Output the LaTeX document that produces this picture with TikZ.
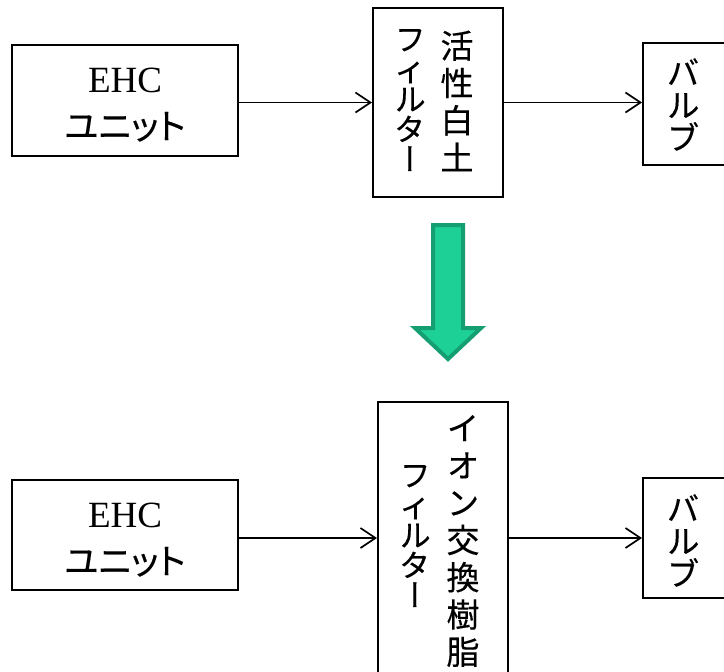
\documentclass[tikz,border=0pt]{standalone}
\usepackage{fontspec}
\setmainfont{Liberation Serif}
\newfontfamily\jp[FakeBold=0.3]{Noto Sans CJK JP}
\newfontfamily\jpp[RawFeature=+palt,FakeBold=0.3]{Noto Sans CJK JP}
\newfontfamily\jpv[RawFeature=+vert,FakeBold=0.3]{Noto Sans CJK JP}
\usetikzlibrary{arrows.meta}
\definecolor{arrfill}{HTML}{1DD196}
\definecolor{arrline}{HTML}{159E72}
\newcommand\vtightlines{\lineskiplimit=-100pt\relax}
\newcommand\smalli{{\jp ィ}}
\begin{document}
\begin{tikzpicture}[x=1pt,y=-1pt,
  box/.style={draw, line width=2pt, inner sep=0pt},
  conn/.style={line width=1.7pt, -{Straight Barb[length=15pt,width=20pt]}},
  vcolwide/.style={font=\jpv\fontsize{33}{37.3}\selectfont\vtightlines, align=center, inner sep=0pt},
  vcolnarrow/.style={font=\jpv\fontsize{31.5}{30}\selectfont\vtightlines, align=center, inner sep=0pt},
  vcolvalve/.style={font=\jpv\fontsize{33}{32.5}\selectfont\vtightlines, align=center, inner sep=0pt},
  ehclabel/.style={font=\fontsize{37}{40}\selectfont, anchor=base, inner sep=0pt},
  unitlabel/.style={font=\jpp\fontsize{35}{40}\selectfont, anchor=base, inner sep=0pt},
  bigarrow/.style={fill=arrfill, draw=arrline, line width=4pt, line join=miter}
]
\useasboundingbox (0,0) rectangle (724,672);
\clip (0,0) rectangle (724,672);

% ---------- top row ----------
\node[box, minimum width=226pt, minimum height=111pt] (ehc1) at (125,100.5) {};
\node[ehclabel] (ehc1t) at (125,92) {EHC};
\node[unitlabel] (ehc1u) at (125,139) {ユニット};

\node[box, minimum width=130pt, minimum height=189pt] (f1) at (438,102.5) {};
\node[vcolwide] (f1r) at (457,101) {活\\性\\白\\土};
\node[vcolnarrow] (f1l) at (410,100) {フ\\\smalli\\ル\\タ\\ー};

\node[box, minimum width=120pt, minimum height=122pt] (v1) at (703,104) {};
\node[vcolvalve] (v1t) at (683,104.5) {バ\\ル\\ブ};

\draw[conn] (ehc1.east |- f1.west) -- (f1.west);
\draw[conn] (f1.east) -- (f1.east -| v1.west);

% ---------- green arrow ----------
\draw[bigarrow] (433,225) -- (463,225) -- (463,328) -- (481,328) -- (448,359)
  -- (415,328) -- (433,328) -- cycle;

% ---------- bottom row ----------
\node[box, minimum width=226pt, minimum height=110pt] (ehc2) at (125,535) {};
\node[ehclabel] (ehc2t) at (125,527) {EHC};
\node[unitlabel] (ehc2u) at (125,574) {ユニット};

\node[box, minimum width=130pt, minimum height=298pt] (f2) at (443,551) {};
\node[vcolwide] (f2r) at (463,541) {イ\\オ\\ン\\交\\換\\樹\\脂};
\node[vcolnarrow] (f2l) at (415,536) {フ\\\smalli\\ル\\タ\\ー};

\node[box, minimum width=120pt, minimum height=120pt] (v2) at (703,538) {};
\node[vcolvalve] (v2t) at (683,540.5) {バ\\ル\\ブ};

\draw[conn] (ehc2.east |- v2.west) -- (f2.west |- v2.west);
\draw[conn] (f2.east |- v2.west) -- (v2.west);
\end{tikzpicture}
\end{document}
